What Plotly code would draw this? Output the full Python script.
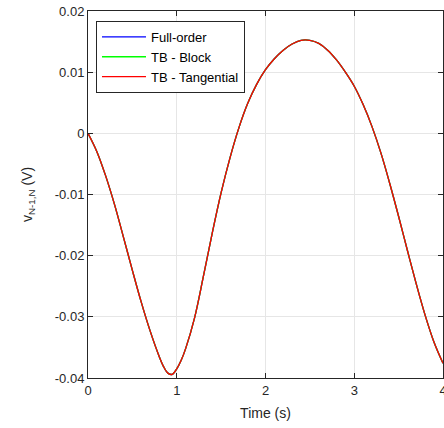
import plotly.graph_objects as go

# Time samples (s) and voltage readings (V)
time_s = [0.0, 0.1, 0.2, 0.3, 0.4, 0.5, 0.6, 0.7, 0.8, 0.85, 0.9, 0.95,
          1.0, 1.05, 1.1, 1.2, 1.3, 1.4, 1.5, 1.6, 1.7, 1.8, 1.9,
          2.0, 2.1, 2.2, 2.3, 2.4, 2.5, 2.6, 2.7, 2.8, 2.9,
          3.0, 3.1, 3.2, 3.3, 3.4, 3.5, 3.6, 3.7, 3.8, 3.9, 4.0]

full_order = [0.0, -0.0030, -0.0070, -0.0117, -0.0170, -0.0224, -0.0276, -0.0323, -0.0364, -0.0381, -0.0392, -0.0394,
              -0.0385, -0.0371, -0.0352, -0.0302, -0.0234, -0.0163, -0.0097, -0.0040, 0.0009, 0.0049, 0.0080,
              0.0104, 0.0122, 0.0136, 0.0146, 0.0152, 0.0152, 0.0147, 0.0136, 0.0120, 0.0100,
              0.0077, 0.0047, 0.0011, -0.0032, -0.0082, -0.0136, -0.0192, -0.0247, -0.0298, -0.0342, -0.0376]
tb_block = list(full_order)
tb_tangential = list(full_order)

y_ticks = [0.02, 0.01, 0, -0.01, -0.02, -0.03, -0.04]
y_tick_text = ["0.02", "0.01", "0", "-0.01", "-0.02", "-0.03", "-0.04"]
x_ticks = [0, 1, 2, 3, 4]

FONT = "Liberation Sans, Arial, sans-serif"
AXIS_COLOR = "#262626"

fig = go.Figure()
for name, values, color in [
    ("Full-order", full_order, "#0000FF"),
    ("TB - Block", tb_block, "#00FF00"),
    ("TB - Tangential", tb_tangential, "#FF0000"),
]:
    fig.add_trace(go.Scatter(
        x=time_s, y=values, name=name, mode="lines",
        line=dict(color=color, width=1.3, shape="spline", smoothing=1.0),
    ))

axis_common = dict(
    showline=True, linecolor=AXIS_COLOR, linewidth=1, mirror="ticks",
    ticks="inside", ticklen=5, tickcolor=AXIS_COLOR,
    showgrid=True, gridcolor="#e6e6e6", gridwidth=1, zeroline=False,
    tickfont=dict(family=FONT, size=13, color=AXIS_COLOR),
    ticklabeloverflow="allow", automargin=False,
)

fig.update_layout(
    width=444, height=428,
    paper_bgcolor="white", plot_bgcolor="white",
    font=dict(family=FONT, color=AXIS_COLOR, size=13),
    margin=dict(l=88, r=1, t=11, b=50),
    xaxis=dict(range=[0, 4], tickvals=x_ticks,
               title=dict(text="Time (s)", font=dict(size=14), standoff=11),
               **axis_common),
    yaxis=dict(range=[-0.04, 0.02], tickvals=y_ticks, ticktext=y_tick_text,
               title=dict(text="v<sub>N-1,N</sub> (V)", font=dict(size=14), standoff=18),
               **axis_common),
    legend=dict(x=0.0225, y=0.973, xanchor="left", yanchor="top",
                bgcolor="white", bordercolor=AXIS_COLOR, borderwidth=1,
                font=dict(family=FONT, size=13, color="#000000"),
                itemwidth=44, tracegroupgap=0),
    showlegend=True,
)

# drop the page's default body margin so the figure sits at the window origin
page_fix = (
    "document.body.style.margin='0';"
    "document.body.style.overflow='hidden';"
    "Plotly.relayout(document.getElementById('{plot_id}'), {width: 444, height: 428});"
)

fig.write_html("out.html", config={"responsive": False, "displayModeBar": False},
               post_script=page_fix)
